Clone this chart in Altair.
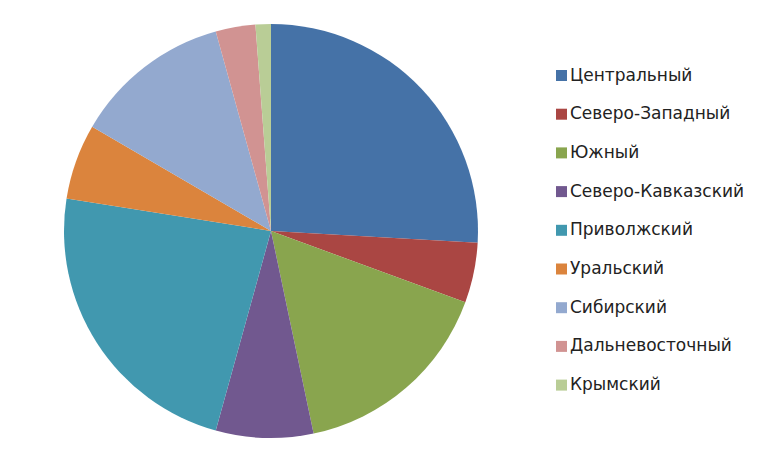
import altair as alt
import pandas as pd

regions = ["Центральный", "Северо-Западный", "Южный", "Северо-Кавказский",
           "Приволжский", "Уральский", "Сибирский", "Дальневосточный", "Крымский"]
shares = [25.9, 4.7, 16.1, 7.6, 23.2, 5.9, 12.3, 3.1, 1.2]
colors = ["#4572A7", "#AA4643", "#89A54E", "#71588F", "#4198AF",
          "#DB843D", "#93A9CF", "#D19392", "#B9CD96"]

df = pd.DataFrame({"region": regions, "share": shares, "idx": list(range(len(regions)))})

chart = alt.Chart(df).mark_arc(radius=207).encode(
    theta=alt.Theta("share:Q", stack=True),
    order=alt.Order("idx:Q"),
    color=alt.Color(
        "region:N",
        scale=alt.Scale(domain=regions, range=colors),
        legend=alt.Legend(
            title=None, orient="none", legendX=545, legendY=59,
            symbolType="square", symbolSize=121, symbolStrokeWidth=0,
            labelFontSize=17, labelFont="DejaVu Sans", labelColor="#222222",
            rowPadding=20.7, labelOffset=0, labelLimit=400,
        ),
    ),
    x=alt.value(263),
    y=alt.value(223),
).properties(
    width=752, height=445, autosize=alt.AutoSizeParams(type="none"), padding=0
).configure_view(stroke=None)

chart.save("out.html", embed_options={"renderer": "svg", "actions": False})
